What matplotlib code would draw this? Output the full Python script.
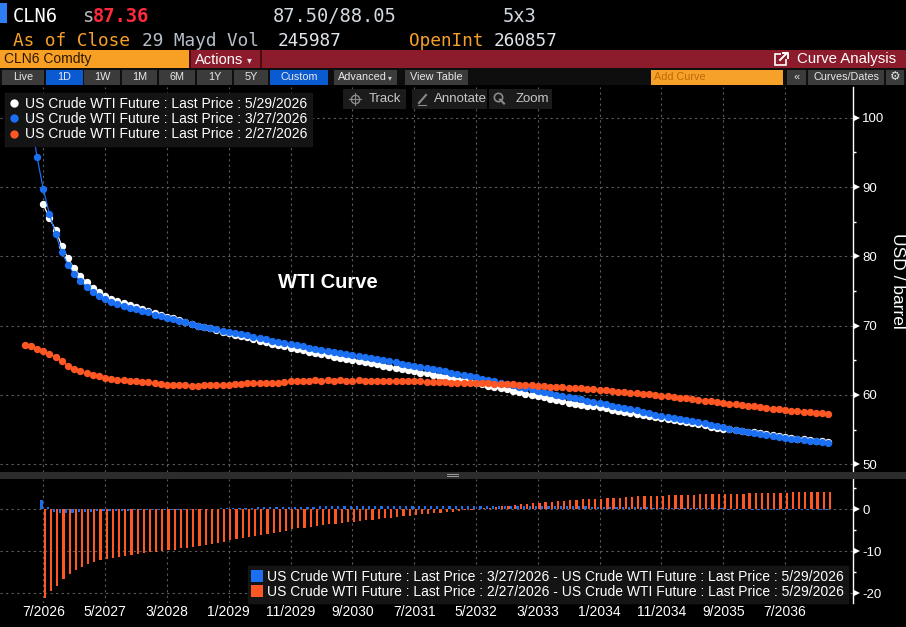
import numpy as np
import matplotlib
matplotlib.use("Agg")
import matplotlib.pyplot as plt
from matplotlib.lines import Line2D
from matplotlib.patches import Rectangle
import matplotlib.transforms as mtransforms

plt.rcParams['font.family'] = ['Liberation Sans', 'DejaVu Sans']
plt.rcParams['axes.unicode_minus'] = False

# ---------------- data ----------------
labels_curves = ["US Crude WTI Future : Last Price : 5/29/2026",
                 "US Crude WTI Future : Last Price : 3/27/2026",
                 "US Crude WTI Future : Last Price : 2/27/2026"]
first_contract = [(7, 2026), (5, 2026), (4, 2026)]   # month, year of first contract

white_5_29 = [87.5, 85.5, 83.8, 81.5, 79.7, 78.25, 77.2, 76.3, 75.45, 74.85,
              74.3, 73.85, 73.5, 73.25, 72.95, 72.65, 72.4, 72.15, 71.85, 71.6,
              71.3, 71.05, 70.75, 70.6, 70.25, 70.0, 69.85, 69.6, 69.4, 69.15,
              68.9, 68.7, 68.5, 68.3, 68.05, 67.85, 67.65, 67.4, 67.25, 67.0,
              66.8, 66.6, 66.45, 66.25, 66.1, 65.9, 65.75, 65.5, 65.35, 65.2,
              65.0, 64.9, 64.7, 64.55, 64.4, 64.2, 64.05, 63.9, 63.75, 63.55,
              63.4, 63.2, 63.1, 62.9, 62.75, 62.6, 62.45, 62.25, 62.1, 61.9,
              61.7, 61.55, 61.35, 61.15, 60.95, 60.8, 60.6, 60.4, 60.2, 60.0,
              59.8, 59.65, 59.45, 59.25, 59.1, 58.9, 58.75, 58.55, 58.4, 58.4,
              58.25, 58.1, 57.9, 57.75, 57.55, 57.4, 57.25, 57.05, 56.9, 56.85,
              56.7, 56.55, 56.4, 56.25, 56.1, 55.95, 55.8, 55.65, 55.45, 55.3,
              55.15, 55.15, 55.0, 54.85, 54.7, 54.6, 54.45, 54.3, 54.2, 54.05,
              53.95, 53.8, 53.7, 53.6, 53.5, 53.4, 53.3, 53.2]

blue_3_27 = [99.9, 94.3,
             89.7, 86.1, 83.2, 80.6, 78.8, 77.4, 76.4, 75.6, 74.85, 74.3,
             73.8, 73.4, 73.1, 72.9, 72.6, 72.35, 72.1, 71.9, 71.6, 71.4,
             71.1, 70.9, 70.65, 70.5, 70.2, 70.0, 69.85, 69.65, 69.5, 69.3,
             69.1, 68.95, 68.8, 68.6, 68.4, 68.25, 68.05, 67.85, 67.7, 67.5,
             67.3, 67.15, 67.0, 66.85, 66.7, 66.55, 66.4, 66.2, 66.05, 65.9,
             65.75, 65.6, 65.45, 65.3, 65.15, 65.0, 64.85, 64.7, 64.5, 64.35,
             64.2, 64.05, 63.9, 63.7, 63.55, 63.4, 63.2, 63.05, 62.9, 62.7,
             62.55, 62.35, 62.15, 61.95, 61.75, 61.55, 61.4, 61.2, 61.0, 60.8,
             60.6, 60.4, 60.25, 60.05, 59.9, 59.7, 59.55, 59.35, 59.2, 58.95,
             58.8, 58.65, 58.45, 58.3, 58.1, 57.95, 57.8, 57.6, 57.45, 57.1,
             56.95, 56.8, 56.65, 56.5, 56.35, 56.2, 56.05, 55.9, 55.7, 55.55,
             55.4, 55.05, 54.9, 54.75, 54.6, 54.5, 54.35, 54.2, 54.1, 53.95,
             53.85, 53.7, 53.6, 53.5, 53.4, 53.3, 53.2, 53.1]

orange_2_27 = [67.2, 67.0, 66.6,
               66.35, 65.95, 65.5, 64.85, 64.25, 63.7, 63.4, 63.15, 62.9, 62.7,
               62.45, 62.3, 62.2, 62.15, 62.0, 61.95, 61.9, 61.85, 61.7, 61.6,
               61.5, 61.45, 61.4, 61.4, 61.35, 61.35, 61.4, 61.4, 61.4, 61.4,
               61.45, 61.55, 61.6, 61.7, 61.7, 61.7, 61.7, 61.75, 61.8, 61.85,
               62.0, 62.0, 62.05, 62.05, 62.1, 62.05, 62.1, 62.05, 62.1, 62.05,
               62.05, 62.1, 62.05, 62.05, 62.0, 62.05, 62.0, 62.0, 62.0, 62.0,
               61.95, 61.95, 61.9, 61.9, 61.85, 61.85, 61.8, 61.8, 61.8, 61.75,
               61.75, 61.75, 61.7, 61.65, 61.6, 61.6, 61.55, 61.5, 61.45, 61.4,
               61.3, 61.3, 61.2, 61.15, 61.1, 61.05, 61.0, 60.95, 60.9, 60.85,
               60.75, 60.7, 60.6, 60.5, 60.45, 60.35, 60.3, 60.2, 60.1, 60.0,
               59.9, 59.8, 59.7, 59.6, 59.5, 59.4, 59.3, 59.2, 59.1, 58.95,
               58.85, 58.75, 58.65, 58.55, 58.45, 58.35, 58.25, 58.15, 58.05, 57.95,
               57.85, 57.75, 57.65, 57.6, 57.5, 57.4, 57.35, 57.3]

xtick_labels = ["7/2026", "5/2027", "3/2028", "1/2029", "11/2029", "9/2030", "7/2031",
                "5/2032", "3/2033", "1/2034", "11/2034", "9/2035", "7/2036"]
price_ticks = [50, 60, 70, 80, 90, 100]
diff_ticks = [-20, -10, 0]
diff_labels = ["US Crude WTI Future : Last Price : 3/27/2026 - US Crude WTI Future : Last Price : 5/29/2026",
               "US Crude WTI Future : Last Price : 2/27/2026 - US Crude WTI Future : Last Price : 5/29/2026"]

# ---------------- helpers ----------------
def midx(m, y):
    return (y - 2026) * 12 + (m - 7)

series = [np.array(white_5_29), np.array(blue_3_27), np.array(orange_2_27)]
xs = [midx(*fc) + np.arange(len(s)) for fc, s in zip(first_contract, series)]
colors = ['#ffffff', '#1a6ff2', '#ff5724']

# differences vs 5/29 curve on common contracts
xw = xs[0]
blue_diff = series[1][2:] - series[0]
orange_diff = series[2][3:] - series[0]

tick_pos = [midx(int(l.split('/')[0]), int(l.split('/')[1])) for l in xtick_labels]

W, H = 906, 627
fig = plt.figure(figsize=(W / 100, H / 100), dpi=100, facecolor='black')

def fy(py):
    return 1 - py / H

ax = fig.add_axes([0, fy(472), 853 / W, (472 - 87) / H])
ax2 = fig.add_axes([0, fy(603), 853 / W, (603 - 479) / H])

GRID = dict(color='#5c5c5c', ls=(0, (2, 3)), lw=0.8)
for a in (ax, ax2):
    a.set_facecolor('black')
    for s in ('left', 'top', 'bottom'):
        a.spines[s].set_visible(False)
    a.spines['right'].set_color('white')
    a.spines['right'].set_linewidth(1.0)
    a.yaxis.tick_right()
    a.set_xlim(-7.0, 131.0)
    a.set_xticks(tick_pos)
    a.grid(True, which='major', **GRID)
    a.set_axisbelow(True)
    a.tick_params(axis='y', which='major', length=0, pad=6.5, colors='white', labelsize=9.5)
    a.tick_params(axis='y', which='minor', length=2.5, width=1, color='white', direction='out')
    a.tick_params(axis='x', length=0)

# ---- top panel ----
for x, y, c, z in zip(xs, series, colors, (3, 4, 5)):
    ax.plot(x, y, '-', color=c, lw=0.9, marker='o', ms=5.3, mew=0, zorder=z)
ax.set_ylim(48.89, 104.43)
ax.set_yticks(price_ticks)
ax.set_yticks([55, 65, 75, 85, 95], minor=True)
ax.set_yticklabels([str(v) for v in price_ticks])
ax.tick_params(axis='x', labelbottom=False)
ax.yaxis.set_label_position('right')
ylab = ax.set_ylabel("USD / barrel", color='white', fontsize=12.5, rotation=270)
ax.yaxis.set_label_coords(897 / 853, 1 - (281 - 87) / 385)
ylab.set_va('center')
ylab.set_ha('center')

handles = [Line2D([], [], ls='none', marker='o', ms=6, mew=0, color=c) for c in colors]
leg = ax.legend(handles, labels_curves, loc='upper left', bbox_to_anchor=(5 / 853, 1 - 6 / 385),
                borderaxespad=0, fontsize=10, labelcolor='white', frameon=True,
                facecolor='#161616', edgecolor='#161616', framealpha=0.92, fancybox=False,
                handlelength=0.7, handletextpad=0.45, borderpad=0.3, labelspacing=0.08)
leg.set_zorder(20)

# ---- bottom panel ----
ax2.bar(xw - 0.27, blue_diff, width=0.36, color=colors[1], lw=0, zorder=3)
ax2.bar(xw + 0.27, orange_diff, width=0.36, color=colors[2], lw=0, zorder=3)
ax2.set_ylim(-22.3, 7.15)
ax2.set_yticks(diff_ticks)
ax2.set_yticks([-15, -5, 5], minor=True)
ax2.set_yticklabels([str(v) for v in diff_ticks])
ax2.set_xticklabels(xtick_labels)
ax2.tick_params(axis='x', colors='white', labelsize=10, pad=1.5)

h2 = [Line2D([], [], ls='none', marker='s', ms=8, mew=0, color=c) for c in colors[1:]]
leg2 = ax2.legend(h2, diff_labels, loc='lower right', bbox_to_anchor=(848 / 853, 0.0),
                  borderaxespad=0, fontsize=10, labelcolor='white', frameon=True,
                  facecolor='#161616', edgecolor='#161616', framealpha=0.95, fancybox=False,
                  handlelength=0.7, handletextpad=0.4, borderpad=0.3, labelspacing=0.08)
leg2.set_zorder(20)

# triangle markers at major ticks
for a, vals in ((ax, price_ticks), (ax2, diff_ticks)):
    tr = mtransforms.blended_transform_factory(a.transAxes, a.transData) + \
        mtransforms.ScaledTranslation(3.6 / 100, 0, fig.dpi_scale_trans)
    a.plot([1.0] * len(vals), vals, ls='none', marker='>', ms=5, color='white', mew=0,
           transform=tr, clip_on=False, zorder=10)

# ---------------- overlay (header / toolbar) ----------------
ov = fig.add_axes([0, 0, 1, 1], facecolor='none', zorder=30)
ov.set_xlim(0, W)
ov.set_ylim(H, 0)
ov.axis('off')

def rect(x0, y0, w, h, c, **kw):
    ov.add_patch(Rectangle((x0, y0), w, h, facecolor=c, edgecolor='none', **kw))

def txt(x, y, s, c, size, ha='left', va='baseline', family=None, weight='normal', **kw):
    kwargs = dict(color=c, fontsize=size, ha=ha, va=va, weight=weight)
    if family:
        kwargs['family'] = family
    kwargs.update(kw)
    ov.text(x, y, s, **kwargs)

MONO = ['DejaVu Sans Mono']
rect(0, 3, 7, 20, '#2f7ef5')
txt(13, 22.5, "CLN6", 'white', 13.5, family=MONO)
txt(82, 22.5, "s", '#b8b8b8', 13.5, family=MONO)
txt(93, 22.5, "87.36", '#ff2b3d', 13.5, family=MONO, weight='bold')
txt(273, 22.5, "87.50/88.05", '#d2d9e0', 13.5, family=MONO)
txt(503, 22.5, "5x3", '#d2d9e0', 13.5, family=MONO)
txt(13, 45.5, "As of Close", '#f59e2a', 12.8, family=MONO)
txt(142, 45.5, "29 Mayd Vol", '#b6bec8', 12.8, family=MONO)
txt(278, 45.5, "245987", '#dfe5ec', 12.8, family=MONO)
txt(409, 45.5, "OpenInt", '#f59e2a', 12.8, family=MONO)
txt(494, 45.5, "260857", '#dfe5ec', 12.8, family=MONO)

# red bar
rect(0, 50, W, 18, '#8c1b2b')
rect(0, 50, 189, 18, '#f7a023')
rect(189, 50, 1.5, 18, '#4a0c14')
rect(260, 50, 1.5, 18, '#4a0c14')
txt(4, 59.5, "CLN6 Comdty", '#2b1800', 10, va='center')
txt(195, 59.5, "Actions", 'white', 10.5, va='center')
txt(247, 60.5, "▾", '#dddddd', 7, va='center', family=['DejaVu Sans'])
ov.add_patch(Rectangle((775, 54), 11, 11, facecolor='none', edgecolor='white', lw=1.2))
rect(781, 51, 8, 8, '#8c1b2b')
ov.plot([780, 787], [60, 53], color='white', lw=1.4)
ov.plot([783, 787.5, 787.5], [53, 53, 57.5], color='white', lw=1.4)
txt(797, 59.5, "Curve Analysis", 'white', 10.8, va='center')

# button row
rect(0, 68, W, 17, '#0e0e0e')
buttons = [("Live", 2, 44, '#3b3b3b'), ("1D", 46, 83, '#0a5ad1'), ("1W", 84, 120, '#3b3b3b'),
           ("1M", 122, 157, '#3b3b3b'), ("6M", 159, 195, '#3b3b3b'), ("1Y", 197, 232, '#3b3b3b'),
           ("5Y", 234, 268, '#3b3b3b'), ("Custom", 270, 328, '#0a5ad1'),
           ("Advanced", 334, 397, '#3b3b3b'), ("View Table", 405, 468, '#3b3b3b'),
           ("«", 787, 806, '#3b3b3b'), ("Curves/Dates", 808, 884, '#3b3b3b'), ("⚙", 886, 904, '#3b3b3b')]
for lab, x0, x1, c in buttons:
    rect(x0, 69.5, x1 - x0, 15, c)
    if lab == "Advanced":
        txt(x0 + 4, 77, lab, '#e8e8e8', 7.8, va='center')
        txt(x1 - 9, 77.5, "▾", '#cccccc', 5.5, va='center', family=['DejaVu Sans'])
    elif lab == "⚙":
        txt((x0 + x1) / 2, 77, lab, '#e8e8e8', 8.5, ha='center', va='center', family=['DejaVu Sans'])
    else:
        txt((x0 + x1) / 2, 77, lab, '#e8e8e8', 7.8, ha='center', va='center')
rect(651, 69.5, 132, 15, '#f5a12a')
txt(654, 77, "Add Curve", '#c06a05', 7.8, va='center')

# track / annotate / zoom boxes
for x0, x1 in ((343, 406), (412, 487), (489, 552)):
    rect(x0, 89, x1 - x0, 20, '#1b1b1b')
txt(369, 99, "Track", '#c8c8c8', 9.5, va='center')
txt(434, 99, "Annotate", '#c8c8c8', 9.5, va='center')
txt(516, 99, "Zoom", '#c8c8c8', 9.5, va='center')
ov.plot([355], [99], marker='o', ms=6, mfc='none', mec='#8a8a8a', mew=1)
ov.plot([349, 361], [99, 99], color='#8a8a8a', lw=0.8)
ov.plot([355, 355], [93, 105], color='#8a8a8a', lw=0.8)
ov.plot([419, 426], [103, 95], color='#8a8a8a', lw=1.5)
ov.plot([418, 426], [104.5, 104.5], color='#8a8a8a', lw=0.8)
ov.plot([498], [97], marker='o', ms=6, mfc='none', mec='#8a8a8a', mew=1.2)
ov.plot([500, 504], [99.5, 103.5], color='#8a8a8a', lw=1.5)

# panel divider
rect(0, 472, W, 6.5, '#2c2c2c')
ov.plot([447, 458], [474.3, 474.3], color='#a0a0a0', lw=0.7)
ov.plot([447, 458], [476.3, 476.3], color='#a0a0a0', lw=0.7)

# chart title
txt(328, 283, "WTI Curve", 'white', 14.5, ha='center', va='center', weight='bold')

fig.savefig("out.png", dpi=100, facecolor='black')
